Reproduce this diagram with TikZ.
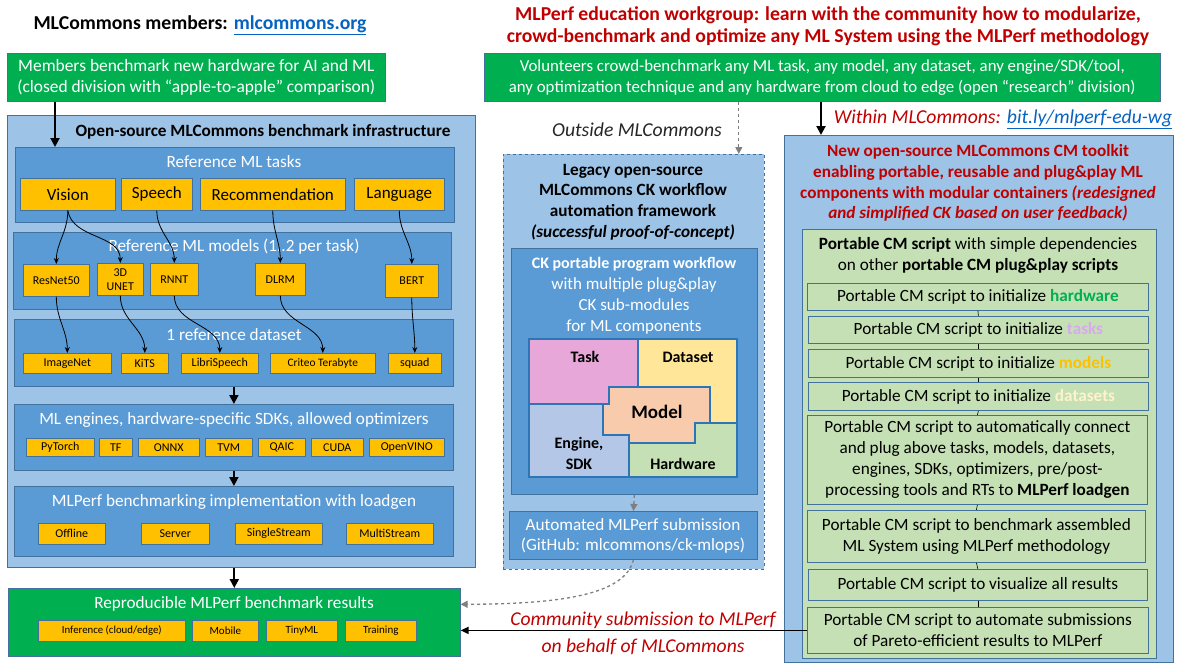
\documentclass[tikz,border=0pt]{standalone}
\usepackage{fontspec}
\setmainfont{Carlito}
\usetikzlibrary{arrows.meta,calc}
\definecolor{greenc}{HTML}{00B050}
\definecolor{lblue}{HTML}{9DC3E6}
\definecolor{midblue}{HTML}{5B9BD5}
\definecolor{bordc}{HTML}{41719C}
\definecolor{orangec}{HTML}{FFC000}
\definecolor{redc}{HTML}{C00000}
\definecolor{linkc}{HTML}{0563C1}
\definecolor{lgreen}{HTML}{C5E0B4}
\definecolor{pinkc}{HTML}{E8A7D9}
\definecolor{yelc}{HTML}{FFE699}
\definecolor{peachc}{HTML}{F8CBAD}
\definecolor{engc}{HTML}{B4C7E7}
\definecolor{piecec}{HTML}{2E75B6}
\definecolor{grayc}{HTML}{7F7F7F}
\definecolor{lavc}{HTML}{D9A9F0}
\definecolor{creamc}{HTML}{FFF2CC}
\newcommand\fs[2]{\fontsize{#1}{#2}\selectfont}
\newcommand\rb[7]{\node[#2,anchor=north west,minimum width=#5pt,minimum height=#6pt] (#1) at (#3,#4) {#7};}
\tikzset{
  outerbox/.style={draw=bordc, fill=lblue, line width=0.8pt, inner sep=0pt},
  panel/.style={draw=bordc, fill=midblue, line width=0.8pt, inner sep=0pt},
  obox/.style={draw=bordc, fill=orangec, line width=0.6pt, inner sep=0pt, align=center, text=black},
  gbox/.style={draw=bordc, fill=greenc, line width=0.6pt, inner sep=0pt, align=center, text=white, font=\fs{16.8}{21}},
  sbox/.style={draw=bordc, fill=lgreen, line width=0.8pt, inner sep=0pt, align=center, text=black, font=\fs{17.2}{21}},
  wtitle/.style={text=white, font=\fs{17.2}{20}},
  arr/.style={-{Stealth[length=6pt,width=5pt]}, line width=0.8pt},
  bigarr/.style={-{Triangle[length=9pt,width=9pt]}, line width=2pt},
  garr/.style={-{Triangle[length=7pt,width=7pt]}, draw=grayc, dashed, line width=1.3pt},
  piece/.style={draw=piecec, line width=2pt, line join=miter},
  plabel/.style={font=\bfseries\fs{16}{19}, align=center}
}
\begin{document}
\begin{tikzpicture}[x=1pt,y=-1pt]
\useasboundingbox (0,0) rectangle (1181,670);
% ---------- left column ----------
\node[font=\bfseries\fs{19.7}{22}] (lhead) at (200,25) {MLCommons members: \textcolor{linkc}{\underline{mlcommons.org}}};
\rb{members}{gbox,font=\fs{17.4}{21}}{7}{53}{378}{48}{Members benchmark new hardware for AI and ML\\(closed division with “apple-to-apple” comparison)}
\rb{infra}{outerbox}{7}{115}{468}{452}{}
\node[font=\bfseries\fs{17.2}{20}] (infratitle) at (263,132) {Open-source MLCommons benchmark infrastructure};
% tasks
\rb{tasks}{panel}{15}{147}{439}{75}{}
\node[wtitle] (taskstitle) at (234,162) {Reference ML tasks};
\rb{vision}{obox,font=\fs{17}{20}}{20}{178}{95}{32}{Vision}
\rb{speech}{obox,font=\fs{17}{20}}{121}{178}{71}{32}{Speech}
\rb{recom}{obox,font=\fs{17}{20}}{200}{178}{145}{32}{Recommendation}
\rb{lang}{obox,font=\fs{17}{20}}{354}{178}{90}{32}{Language}
% models
\rb{models}{panel}{13}{232}{438}{77}{}
\node[wtitle] (modelstitle) at (234,247) {Reference ML models (1..2 per task)};
\rb{resnet}{obox,font=\fs{12}{14}}{23}{264}{66}{32}{ResNet50}
\rb{unet}{obox,font=\fs{12}{14}}{97}{263}{46}{32}{3D\\UNET}
\rb{rnnt}{obox,font=\fs{12}{14}}{150}{263}{48}{32}{RNNT}
\rb{dlrm}{obox,font=\fs{12}{14}}{255}{263}{50}{32}{DLRM}
\rb{bert}{obox,font=\fs{12}{14}}{385}{264}{53}{33}{BERT}
% datasets
\rb{datasets}{panel}{14}{319}{439}{67}{}
\node[wtitle] (datatitle) at (234,335) {1 reference dataset};
\rb{imagenet}{obox,font=\fs{12}{14}}{23}{353}{88}{20}{ImageNet}
\rb{kits}{obox,font=\fs{12}{14}}{121}{353}{47}{20}{KiTS}
\rb{libri}{obox,font=\fs{12}{14}}{181}{353}{77}{20}{LibriSpeech}
\rb{criteo}{obox,font=\fs{11.4}{14}}{270}{353}{105}{20}{Criteo Terabyte}
\rb{squad}{obox,font=\fs{12}{14}}{388}{353}{53}{20}{squad}
% engines
\rb{engines}{panel}{14}{404}{439}{66}{}
\node[wtitle] (engtitle) at (234,420) {ML engines, hardware-specific SDKs, allowed optimizers};
\rb{pytorch}{obox,font=\fs{12}{14}}{26}{438}{68}{18}{PyTorch}
\rb{tf}{obox,font=\fs{12}{14}}{99}{438}{33}{18}{TF}
\rb{onnx}{obox,font=\fs{12}{14}}{138}{438}{61}{18}{ONNX}
\rb{tvm}{obox,font=\fs{12}{14}}{205}{438}{47}{18}{TVM}
\rb{qaic}{obox,font=\fs{12}{14}}{258}{438}{47}{18}{QAIC}
\rb{cuda}{obox,font=\fs{12}{14}}{311}{438}{52}{18}{CUDA}
\rb{openvino}{obox,font=\fs{12}{14}}{369}{438}{75}{18}{OpenVINO}
% loadgen
\rb{loadgen}{panel}{14}{486}{439}{70}{}
\node[wtitle] (lgtitle) at (234,502) {MLPerf benchmarking implementation with loadgen};
\rb{offline}{obox,font=\fs{12}{14}}{38}{523}{67}{21}{Offline}
\rb{server}{obox,font=\fs{12}{14}}{141}{523}{68}{21}{Server}
\rb{single}{obox,font=\fs{12}{14}}{235}{523}{87}{21}{SingleStream}
\rb{multi}{obox,font=\fs{12}{14}}{346}{523}{87}{21}{MultiStream}
% results
\rb{results}{gbox}{8}{588}{452}{68}{}
\node[wtitle,font=\fs{17.2}{20}] (restitle) at (234,604) {Reproducible MLPerf benchmark results};
\rb{inference}{obox,font=\fs{10.8}{13}}{38}{620}{147}{21}{Inference (cloud/edge)}
\rb{mobile}{obox,font=\fs{11}{13}}{192}{620}{66}{21}{Mobile}
\rb{tinyml}{obox,font=\fs{11}{13}}{266}{620}{71}{21}{TinyML}
\rb{training}{obox,font=\fs{11}{13}}{345}{620}{71}{21}{Training}
% left arrows
\draw[bigarr] ([xshift=48pt]members.south west) -- ([xshift=40pt]tasks.north west);
\draw[arr] (vision.south) to[out=-90,in=90] (resnet.north);
\draw[arr] (vision.south) to[out=-80,in=90] (unet.north);
\draw[arr] (speech.south) to[out=-90,in=90] (rnnt.north);
\draw[arr] (recom.south) to[out=-90,in=90] (dlrm.north);
\draw[arr] (lang.south) to[out=-90,in=90] (bert.north);
\draw[arr] (resnet.south) to[out=-90,in=90] (imagenet.north);
\draw[arr] (unet.south) to[out=-90,in=90] (kits.north);
\draw[arr] (rnnt.south) to[out=-90,in=90] (libri.north);
\draw[arr] (dlrm.south) to[out=-90,in=90] (criteo.north);
\draw[arr] (bert.south) to[out=-90,in=90] (squad.north);
\draw[bigarr] (datasets.south) -- (engines.north);
\draw[bigarr] (engines.south) -- (loadgen.north);
\draw[bigarr] (results.north |- infra.south) -- (results.north);
% ---------- middle ----------
\node[font=\itshape\fs{19.7}{22}, text=black!85] (outside) at (637,130) {Outside MLCommons};
\rb{legacy}{outerbox,dashed,draw=bordc}{503}{154}{261}{415}{}
\node[font=\bfseries\fs{17.2}{20.7}, align=center] (legacytext) at (633,202) {Legacy open-source\\MLCommons CK workflow\\automation framework\\\textit{(successful proof-of-concept)}};
\rb{ck}{panel}{511}{248}{246}{246}{}
\node[text=white, font=\fs{17}{21}, align=center] (cktext) at (634,295.5) {{\bfseries\fs{16}{21}CK portable program workflow}\\with multiple plug\&play\\CK sub-modules\\for ML components};
% puzzle pieces
\filldraw[piece, fill=pinkc] (529,339) -- (638,339) -- (638,387) -- (609,387) -- (609,404) -- (529,404) -- cycle;
\filldraw[piece, fill=yelc] (638,339) -- (737,339) -- (737,423) -- (710,423) -- (710,387) -- (638,387) -- cycle;
\filldraw[piece, fill=engc] (529,404) -- (603,404) -- (603,435) -- (629,435) -- (629,477) -- (529,477) -- cycle;
\filldraw[piece, fill=lgreen] (629,443) -- (695,443) -- (695,423) -- (737,423) -- (737,477) -- (629,477) -- cycle;
\filldraw[piece, fill=peachc] (609,387) -- (710,387) -- (710,423) -- (695,423) -- (695,443) -- (629,443) -- (629,435) -- (603,435) -- (603,404) -- (609,404) -- cycle;
\node[plabel] (ptask) at (585,357) {Task};
\node[plabel] (pdata) at (688,357) {Dataset};
\node[plabel, font=\bfseries\fs{19}{22}] (pmodel) at (657,412) {Model};
\node[plabel, font=\bfseries\fs{16}{21}] (pengine) at (579,453.5) {Engine,\\SDK};
\node[plabel] (phw) at (683,464) {Hardware};
\rb{auto}{panel}{509}{511}{248}{48}{}
\node[text=white, font=\fs{17.2}{20}, align=center] (autotext) at (633,536) {Automated MLPerf submission\\(GitHub: mlcommons/ck-mlops)};
% ---------- right ----------
\node[text=redc, font=\bfseries\fs{19.7}{22}, align=center] (rhead) at (828,26) {MLPerf education workgroup: learn with the community how to modularize,\\crowd-benchmark and optimize any ML System using the MLPerf methodology};
\rb{volunteers}{gbox}{484}{53}{676}{48}{Volunteers crowd-benchmark any ML task, any model, any dataset, any engine/SDK/tool,\\any optimization technique and any hardware from cloud to edge (open “research” division)}
\node[font=\itshape\fs{19.7}{22}, text=redc] (within) at (1003,119) {Within MLCommons: \textcolor{linkc}{\underline{bit.ly/mlperf-edu-wg}}};
\rb{cm}{outerbox}{784}{135}{389}{527}{}
\node[text=redc, font=\bfseries\fs{17.2}{20.7}, align=center] (cmtitle) at (978,183) {New open-source MLCommons CM toolkit\\enabling portable, reusable and plug\&play ML\\components with modular containers \textit{(redesigned}\\\textit{and simplified CK based on user feedback)}};
\rb{cmin}{sbox}{802}{229}{354}{429}{}
\node[font=\fs{17.2}{21}, align=center] (cmintro) at (978,255.5) {\textbf{Portable CM script} with simple dependencies\\on other \textbf{portable CM plug\&play scripts}};
\rb{s1}{sbox}{807}{283}{341}{27}{Portable CM script to initialize \textcolor{greenc}{\textbf{hardware}}}
\rb{s2}{sbox}{808}{316}{340}{27}{Portable CM script to initialize \textcolor{lavc}{\textbf{tasks}}}
\rb{s3}{sbox}{808}{349}{340}{28}{Portable CM script to initialize \textcolor{orangec}{\textbf{models}}}
\rb{s4}{sbox}{808}{382}{340}{28}{Portable CM script to initialize \textcolor{creamc}{\textbf{datasets}}}
\rb{s5}{sbox}{807}{415}{340}{89}{Portable CM script to automatically connect\\and plug above tasks, models, datasets,\\engines, SDKs, optimizers, pre/post-\\processing tools and RTs to \textbf{MLPerf loadgen}}
\rb{s6}{sbox}{807}{510}{338}{52}{Portable CM script to benchmark assembled\\ML System using MLPerf methodology}
\rb{s7}{sbox}{808}{569}{339}{31}{Portable CM script to visualize all results}
\rb{s8}{sbox}{807}{607}{341}{46}{Portable CM script to automate submissions\\of Pareto-efficient results to MLPerf}
\foreach \a/\b in {s1/s2,s2/s3,s3/s4,s4/s5,s5/s6,s6/s7,s7/s8} \draw[line width=0.6pt] (\a.south) -- (\b.north);
% ---------- cross arrows ----------
\draw[bigarr] ([xshift=37pt]cm.north west |- volunteers.south) -- ([xshift=37pt]cm.north west);
\draw[garr] ([xshift=-26pt]legacy.north east |- volunteers.south) -- ([xshift=-26pt]legacy.north east);
\draw[garr] (ck.south) -- (auto.north);
\draw[garr] (auto.south) .. controls (625,595) and (560,604) .. ([yshift=18pt]results.east);
\draw[line width=1.6pt, -{Triangle[length=8pt,width=7pt]}] (s8.west) -- (s8.west -| results.east);
\node[font=\itshape\fs{19.6}{22}, text=redc] (comm1) at (643,620) {Community submission to MLPerf};
\node[font=\itshape\fs{19.6}{22}, text=redc] (comm2) at (643,647) {on behalf of MLCommons};
\end{tikzpicture}
\end{document}
